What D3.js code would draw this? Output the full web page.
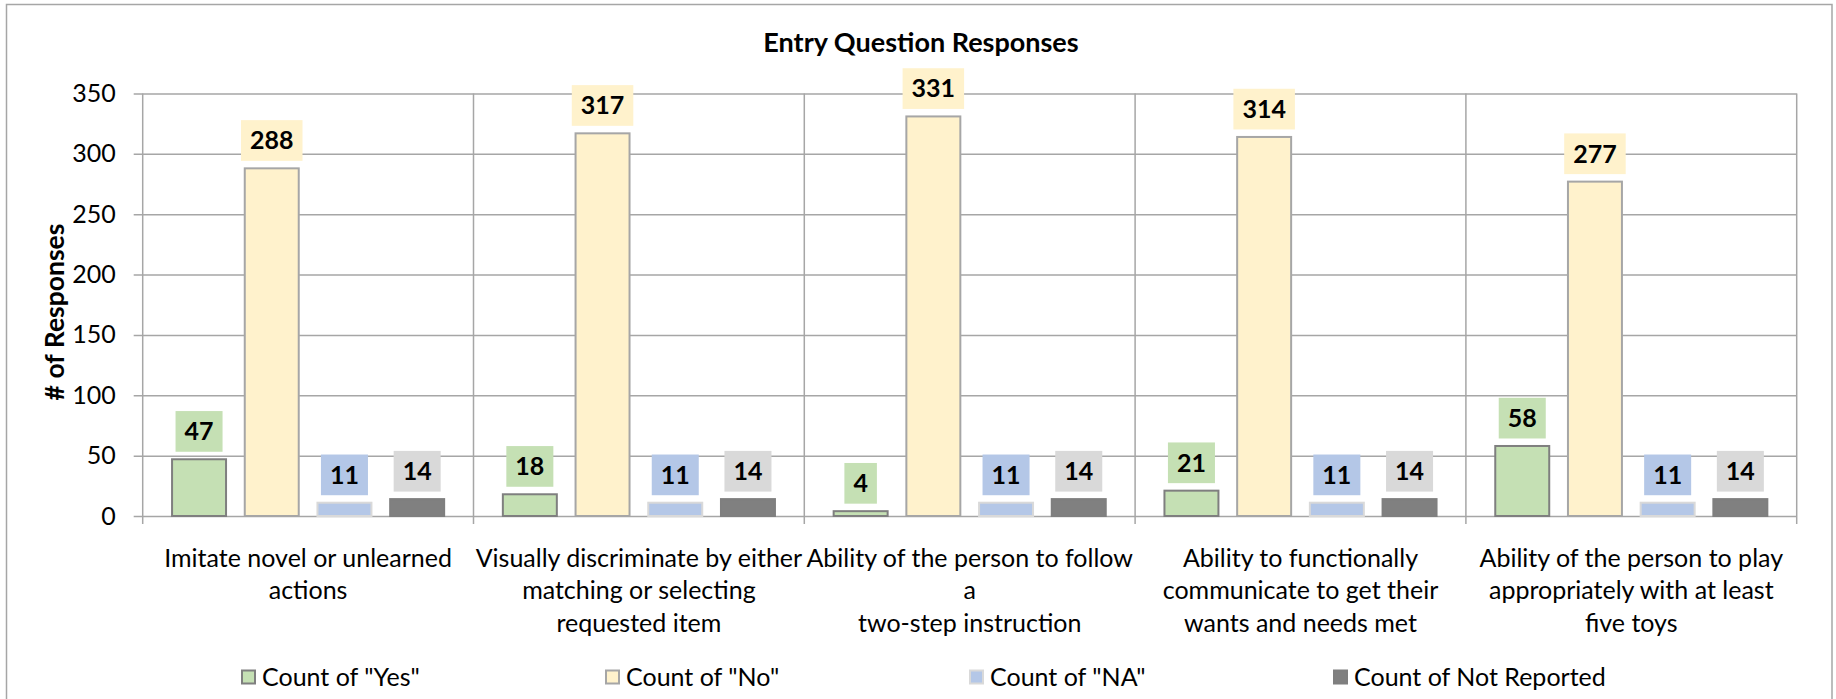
<!DOCTYPE html>
<html>
<head>
<meta charset="utf-8">
<script src="https://cdn.jsdelivr.net/npm/d3@7"></script>
<style>
  body { margin: 0; background: #fff; }
  text { font-family: Lato, "Noto Sans", sans-serif; fill: #000; }
</style>
</head>
<body>
<div id="chart"></div>
<script>
// categories (x axis), written as the wrapped lines shown under each group
const categories = [
  'Imitate novel or unlearned actions',
  'Visually discriminate by either matching or selecting requested item',
  'Ability of the person to follow a two-step instruction',
  'Ability to functionally communicate to get their wants and needs met',
  'Ability of the person to play appropriately with at least five toys'
];
const categoryLines = [
  ['Imitate novel or unlearned', 'actions'],
  ['Visually discriminate by either', 'matching or selecting', 'requested item'],
  ['Ability of the person to follow', 'a', 'two-step instruction'],
  ['Ability to functionally', 'communicate to get their', 'wants and needs met'],
  ['Ability of the person to play', 'appropriately with at least', 'five toys']
];

const seriesNames = ['Count of "Yes"', 'Count of "No"', 'Count of "NA"', 'Count of Not Reported'];
const yesValues = [47, 18, 4, 21, 58];
const noValues = [288, 317, 331, 314, 277];
const naValues = [11, 11, 11, 11, 11];
const notReportedValues = [14, 14, 14, 14, 14];
const yTicks = [0, 50, 100, 150, 200, 250, 300, 350];

const seriesValues = [yesValues, noValues, naValues, notReportedValues];
const barFill = ['#c5e0b4', '#fff2cc', '#b4c7e7', '#808080'];
const barStroke = ['#7f7f7f', '#a6a6a6', '#d9d9d9', '#7f7f7f'];
const labelFill = ['#c5e0b4', '#fff2cc', '#b4c7e7', '#d9d9d9'];

const width = 1836, height = 699;
const plot = { left: 142.7, right: 1796.7, top: 93.5, bottom: 516 };
const fontSize = 25;

const svg = d3.select('#chart').append('svg')
  .attr('width', width)
  .attr('height', height)
  .attr('viewBox', [0, 0, width, height]);

// cadre du graphique
svg.append('rect')
  .attr('x', 6.5).attr('y', 4.5)
  .attr('width', 1825.5).attr('height', 740)
  .attr('fill', '#fff')
  .attr('stroke', '#a6a6a6').attr('stroke-width', 1.5);

const y = d3.scaleLinear().domain([0, 350]).range([plot.bottom, plot.top]);
const x0 = d3.scaleBand().domain(categories).range([plot.left, plot.right]);
const x1 = d3.scaleBand().domain(seriesNames).range([0, x0.bandwidth()])
  .paddingInner(0.23).paddingOuter(0.39);

// grille horizontale + graduations
const yAxis = svg.append('g')
  .attr('transform', `translate(${plot.left - 9},0)`)
  .call(d3.axisLeft(y).tickValues(yTicks).tickSize(-(plot.right - plot.left + 9)).tickPadding(18));
yAxis.select('.domain').remove();
yAxis.selectAll('line').attr('stroke', '#a6a6a6').attr('stroke-width', 1.5);
yAxis.selectAll('text')
  .style('font-family', 'Lato, "Noto Sans", sans-serif')
  .style('font-size', fontSize + 'px')
  .attr('fill', '#000');

// séparateurs verticaux entre catégories
const bounds = categories.map(c => x0(c)).concat([x0.range()[1]]);
svg.append('g').selectAll('line')
  .data(bounds)
  .join('line')
  .attr('x1', d => d).attr('x2', d => d)
  .attr('y1', plot.top).attr('y2', plot.bottom + 8)
  .attr('stroke', '#a6a6a6').attr('stroke-width', 1.5);

// barres
const rows = categories.map((c, i) => ({
  category: c,
  values: seriesNames.map((s, j) => ({ series: s, idx: j, value: seriesValues[j][i] }))
}));

const groups = svg.append('g').selectAll('g')
  .data(rows)
  .join('g')
  .attr('transform', d => `translate(${x0(d.category)},0)`);

groups.selectAll('rect.bar')
  .data(d => d.values)
  .join('rect')
  .attr('class', 'bar')
  .attr('x', d => x1(d.series) + 1)
  .attr('width', x1.bandwidth() - 2)
  .attr('y', d => y(d.value))
  .attr('height', d => y(0) - y(d.value))
  .attr('fill', d => barFill[d.idx])
  .attr('stroke', d => barStroke[d.idx])
  .attr('stroke-width', 2);

// étiquettes de valeurs avec fond
const labels = groups.selectAll('g.lbl')
  .data(d => d.values)
  .join('g')
  .attr('class', 'lbl');

labels.each(function(d) {
  const g = d3.select(this);
  const cx = x1(d.series) + x1.bandwidth() / 2;
  const bottom = y(d.value) - 7.5;
  const t = g.append('text')
    .attr('x', cx)
    .attr('y', bottom - 11.5)
    .attr('text-anchor', 'middle')
    .style('font-size', fontSize + 'px')
    .style('font-weight', 'bold')
    .text(d.value);
  const w = t.node().getComputedTextLength() + 18;
  g.insert('rect', 'text')
    .attr('x', cx - w / 2)
    .attr('y', bottom - 40.7)
    .attr('width', w)
    .attr('height', 40.7)
    .attr('fill', labelFill[d.idx]);
});

// libellés des catégories
const catLabels = svg.append('g').selectAll('text')
  .data(rows.map((r, i) => ({ category: r.category, lines: categoryLines[i] })))
  .join('text')
  .attr('text-anchor', 'middle')
  .style('font-size', fontSize + 'px');
catLabels.selectAll('tspan')
  .data(d => d.lines.map(l => ({ line: l, x: x0(d.category) + x0.bandwidth() / 2 })))
  .join('tspan')
  .attr('x', d => d.x)
  .attr('y', (d, i) => 567 + i * 32.4)
  .text(d => d.line);

// titre
svg.append('text')
  .attr('x', 921).attr('y', 52)
  .attr('text-anchor', 'middle')
  .style('font-size', '27px')
  .style('font-weight', 'bold')
  .text('Entry Question Responses');

// titre de l'axe Y
svg.append('text')
  .attr('transform', 'translate(63.5,312) rotate(-90)')
  .attr('text-anchor', 'middle')
  .style('font-size', '26.5px')
  .style('font-weight', 'bold')
  .text('# of Responses');

// légende
const legendX = d3.scalePoint().domain(seriesNames).range([241, 1333]);
const legend = svg.append('g').selectAll('g')
  .data(seriesNames)
  .join('g')
  .attr('transform', d => `translate(${legendX(d)},669.5)`);
legend.append('rect')
  .attr('x', 1).attr('y', 1)
  .attr('width', 13).attr('height', 13)
  .attr('fill', (d, i) => barFill[i])
  .attr('stroke', (d, i) => barStroke[i])
  .attr('stroke-width', 2);
legend.append('text')
  .attr('x', 21).attr('y', 16)
  .style('font-size', fontSize + 'px')
  .text(d => d);
</script>
</body>
</html>
